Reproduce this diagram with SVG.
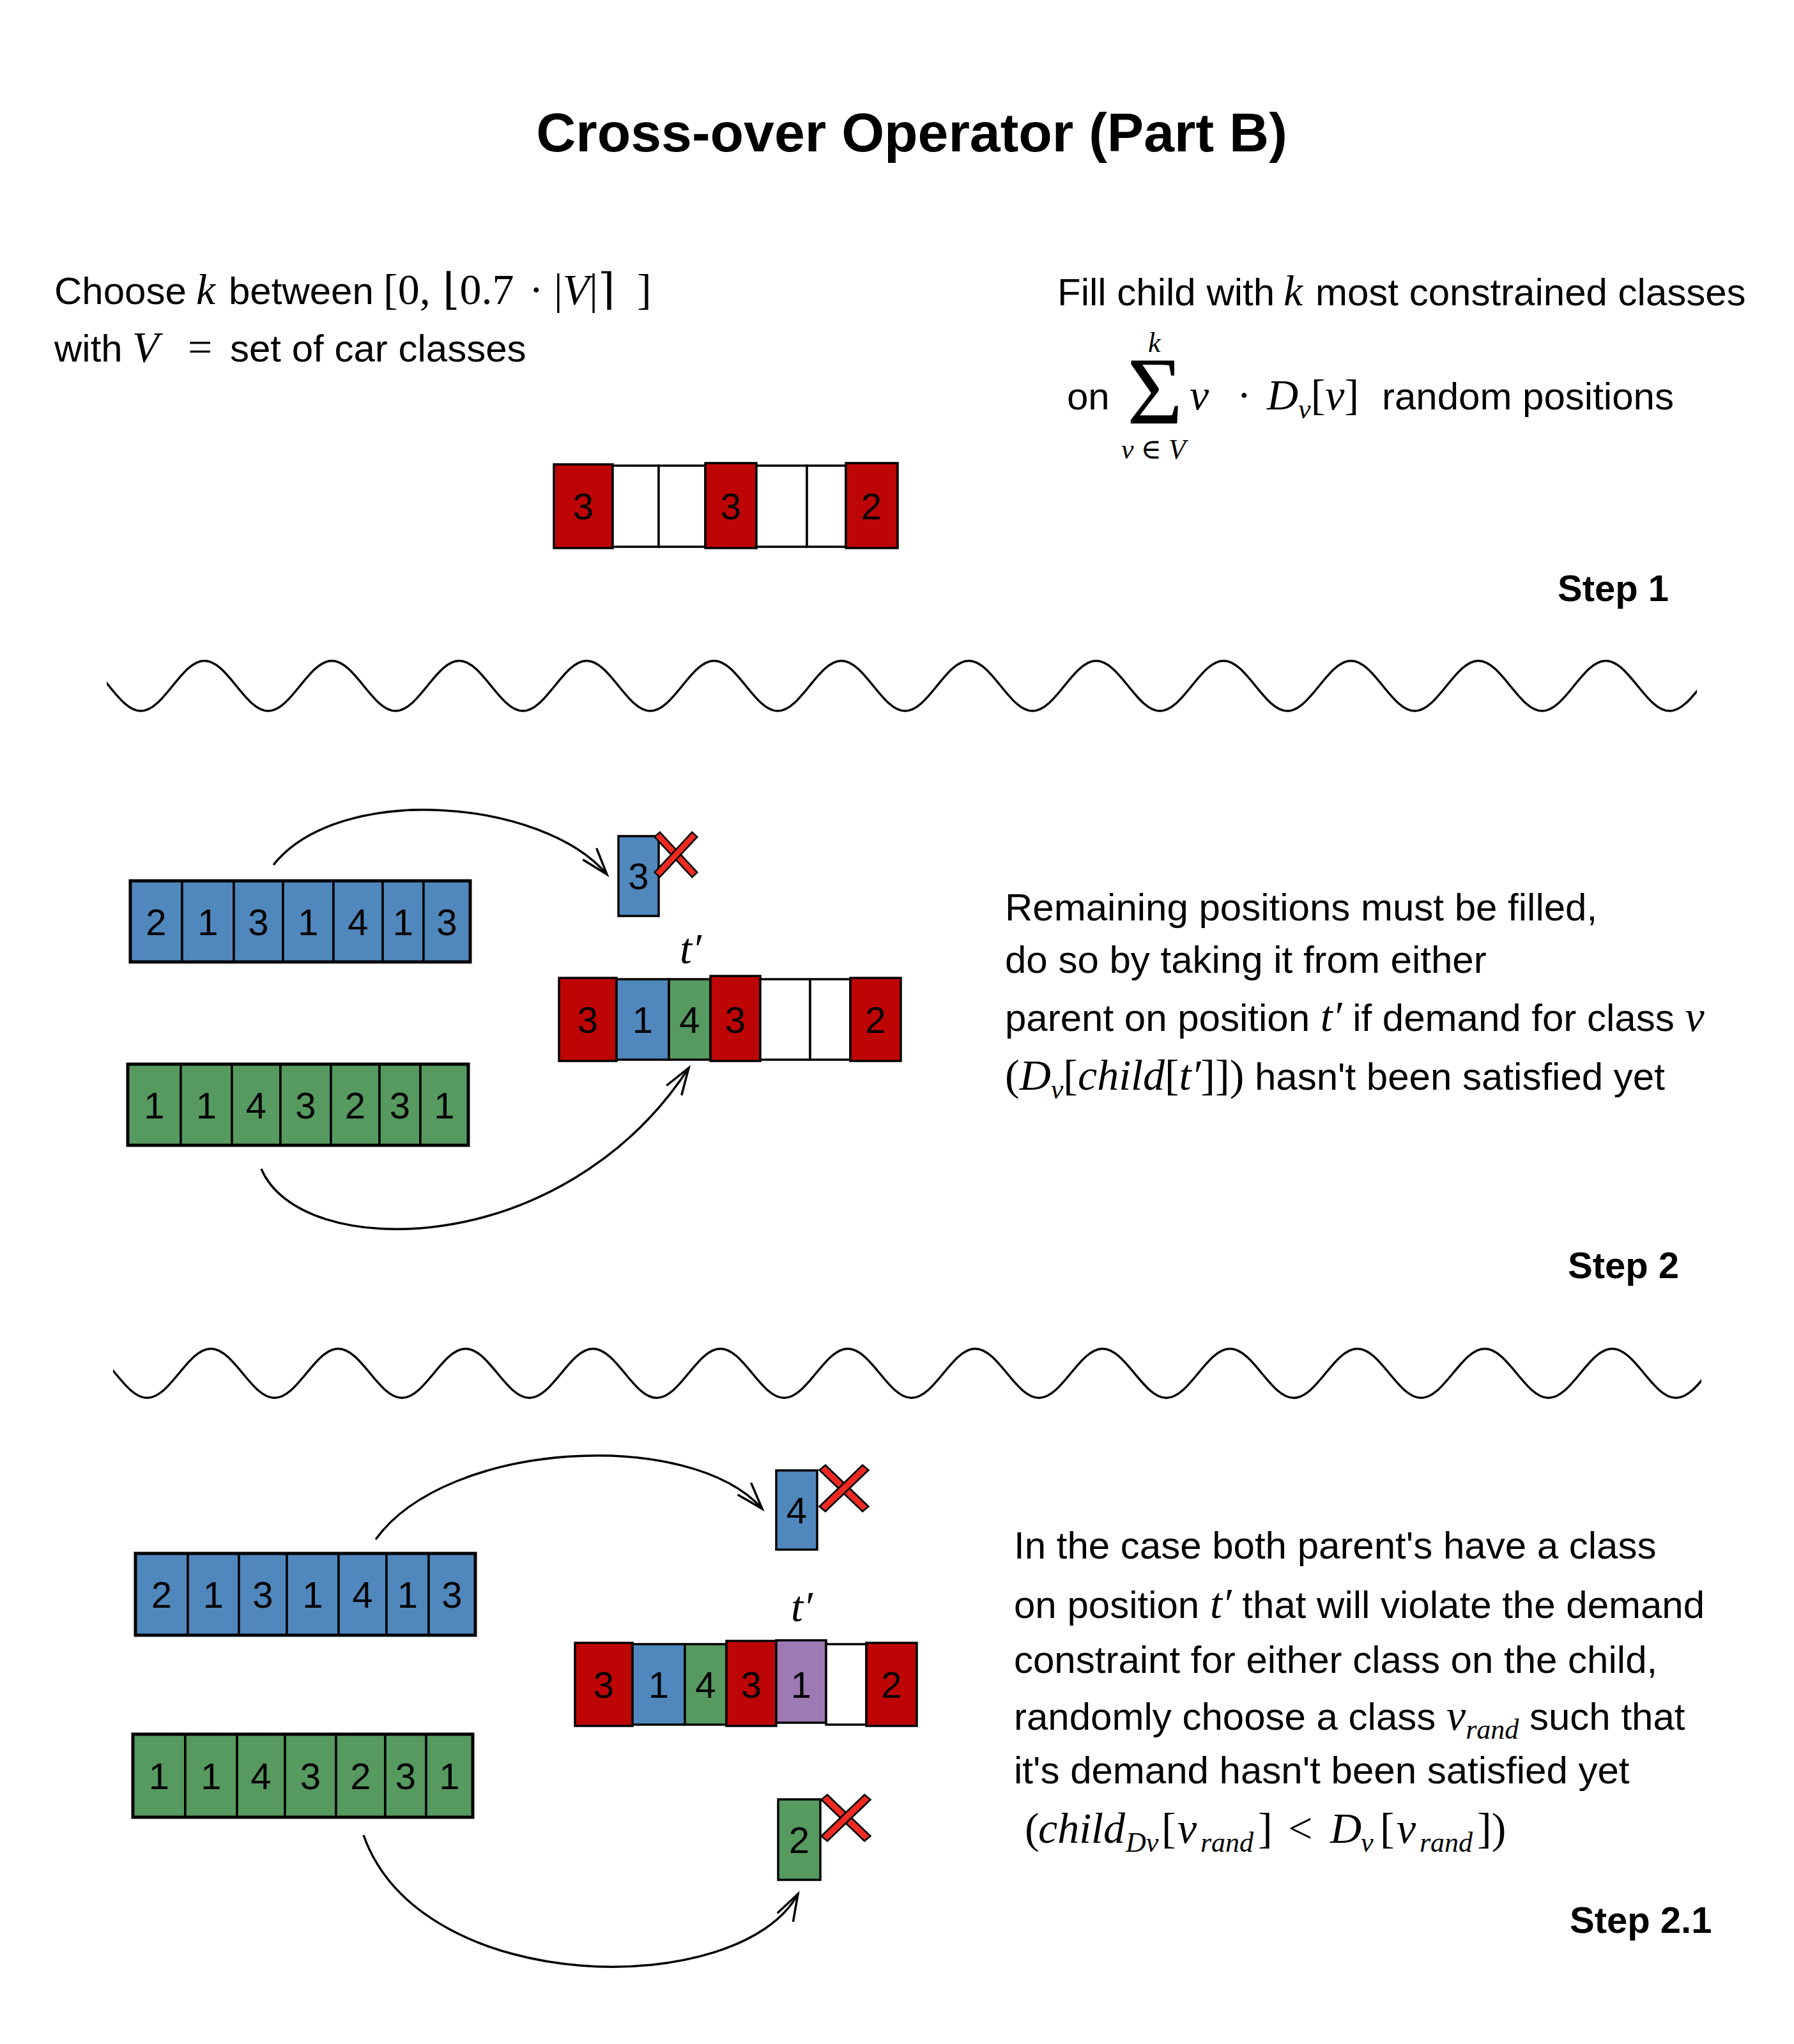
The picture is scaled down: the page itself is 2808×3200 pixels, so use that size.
<svg xmlns="http://www.w3.org/2000/svg" xmlns:xlink="http://www.w3.org/1999/xlink" width="2808" height="3200" viewBox="0 0 2808 3200">
<style>
.tx{font-family:"Liberation Sans",Arial,sans-serif;font-size:60px;fill:#000}
.mi{font-family:"Liberation Serif","DejaVu Serif",serif;font-style:italic;font-size:68px}
.mu{font-family:"Liberation Serif","DejaVu Serif",serif;font-style:normal;font-size:68px}
.sb{font-size:44px}
.sig{font-family:"Liberation Serif","DejaVu Serif",serif;font-size:150px;fill:#000}
.num{font-family:"Liberation Sans",Arial,sans-serif;font-size:58px;text-anchor:middle;fill:#000}
.step{font-family:"Liberation Sans",Arial,sans-serif;font-size:58px;font-weight:bold;fill:#000}
.title{font-family:"Liberation Sans",Arial,sans-serif;font-size:86px;font-weight:bold;text-anchor:middle;fill:#000}
.c{stroke:#000;stroke-width:3.5}
.R{fill:#BE0505}.B{fill:#5088BE}.G{fill:#569A60}.P{fill:#9E7AB4}.W{fill:#fff}
.outer{fill:none;stroke:#000;stroke-width:5}
.arc{fill:none;stroke:#000;stroke-width:3.5;marker-end:url(#arr)}
.wave{fill:none;stroke:#000;stroke-width:3.5}
</style>
<defs>
<marker id="arr" markerUnits="userSpaceOnUse" viewBox="-50 -25 60 50" refX="0" refY="0" markerWidth="60" markerHeight="50" orient="auto" overflow="visible">
<path d="M-42,-14 L0,0 L-42,14" fill="none" stroke="#000" stroke-width="3.5"/>
</marker>
<g id="xm">
<rect x="-5.5" y="-43" width="11" height="86" transform="rotate(-43)" fill="#EE2A22" stroke="#000" stroke-width="2.5"/>
<rect x="-5.5" y="-43" width="11" height="86" transform="rotate(43)" fill="#EE2A22" stroke="#000" stroke-width="2.5"/>
</g>
<clipPath id="cw1"><rect x="167" y="1000" width="2489" height="150"/></clipPath>
<clipPath id="cw2"><rect x="177" y="2080" width="2486" height="150"/></clipPath>
</defs>
<rect width="2808" height="3200" fill="#fff"/>

<text id="title" class="title" x="1427" y="237">Cross-over Operator (Part B)</text>

<g id="step1-text-left">
<text class="tx" y="476"><tspan x="85">Choose</tspan><tspan x="307" class="mi">k</tspan><tspan x="358">between</tspan><tspan x="600" class="mu">[0,</tspan><tspan x="693" class="mu">⌊0.7</tspan><tspan x="828" class="mu">·</tspan><tspan x="867" class="mu">|</tspan><tspan class="mi">V</tspan><tspan class="mu">|⌉</tspan><tspan x="997" class="mu">]</tspan></text>
<text class="tx" y="566"><tspan x="85">with</tspan><tspan x="207" class="mi">V</tspan><tspan x="294" class="mu">=</tspan><tspan x="360">set of car classes</tspan></text>
</g>

<g id="step1-text-right">
<text class="tx" y="478"><tspan x="1655">Fill child with</tspan><tspan x="2009" class="mi">k</tspan><tspan x="2059">most constrained classes</tspan></text>
<text class="tx" y="641"><tspan x="1670">on</tspan></text>
<text class="sig" x="1764" y="663">Σ</text>
<text class="mi sb" x="1797" y="551">k</text>
<text class="mi sb" x="1755" y="718">v <tspan class="mu sb">∈</tspan> V</text>
<text class="tx" y="641"><tspan x="1862" class="mi">v</tspan><tspan x="1936" class="mu">·</tspan><tspan x="1983" class="mi">D</tspan><tspan class="mi sb" dy="14">v</tspan><tspan class="mu" dy="-14">[</tspan><tspan class="mi">v</tspan><tspan class="mu">]</tspan><tspan x="2163">random positions</tspan></text>
</g>

<g id="child-step1">
<rect class="c R" x="867" y="727" width="92" height="131"/>
<rect class="c W" x="959" y="729" width="72" height="127"/>
<rect class="c W" x="1031" y="729" width="73" height="127"/>
<rect class="c R" x="1104" y="725" width="80" height="133"/>
<rect class="c W" x="1184" y="729" width="79" height="127"/>
<rect class="c W" x="1263" y="729" width="61" height="127"/>
<rect class="c R" x="1324" y="725" width="81" height="133"/>
<text class="num" x="913" y="813">3</text>
<text class="num" x="1144" y="813">3</text>
<text class="num" x="1364" y="813">2</text>
</g>

<text id="step1-label" class="step" x="2438" y="941">Step 1</text>

<g id="waves">
<path class="wave" clip-path="url(#cw1)" d="M120.6,1034.5 c36.2,0 63.5,78.5 99.7,78.5 s63.5,-78.5 99.7,-78.5 s63.5,78.5 99.7,78.5 s63.5,-78.5 99.7,-78.5 s63.5,78.5 99.7,78.5 s63.5,-78.5 99.7,-78.5 s63.5,78.5 99.7,78.5 s63.5,-78.5 99.7,-78.5 s63.5,78.5 99.7,78.5 s63.5,-78.5 99.7,-78.5 s63.5,78.5 99.7,78.5 s63.5,-78.5 99.7,-78.5 s63.5,78.5 99.7,78.5 s63.5,-78.5 99.7,-78.5 s63.5,78.5 99.7,78.5 s63.5,-78.5 99.7,-78.5 s63.5,78.5 99.7,78.5 s63.5,-78.5 99.7,-78.5 s63.5,78.5 99.7,78.5 s63.5,-78.5 99.7,-78.5 s63.5,78.5 99.7,78.5 s63.5,-78.5 99.7,-78.5 s63.5,78.5 99.7,78.5 s63.5,-78.5 99.7,-78.5 s63.5,78.5 99.7,78.5 s63.5,-78.5 99.7,-78.5"/>
<path class="wave" clip-path="url(#cw2)" d="M130.6,2111.5 c36.2,0 63.5,77 99.7,77 s63.5,-77 99.7,-77 s63.5,77 99.7,77 s63.5,-77 99.7,-77 s63.5,77 99.7,77 s63.5,-77 99.7,-77 s63.5,77 99.7,77 s63.5,-77 99.7,-77 s63.5,77 99.7,77 s63.5,-77 99.7,-77 s63.5,77 99.7,77 s63.5,-77 99.7,-77 s63.5,77 99.7,77 s63.5,-77 99.7,-77 s63.5,77 99.7,77 s63.5,-77 99.7,-77 s63.5,77 99.7,77 s63.5,-77 99.7,-77 s63.5,77 99.7,77 s63.5,-77 99.7,-77 s63.5,77 99.7,77 s63.5,-77 99.7,-77 s63.5,77 99.7,77 s63.5,-77 99.7,-77 s63.5,77 99.7,77 s63.5,-77 99.7,-77"/>
</g>

<g id="parent1-step2">
<rect class="c B" x="204" y="1379" width="81" height="127"/>
<rect class="c B" x="285" y="1379" width="81" height="127"/>
<rect class="c B" x="366" y="1379" width="77" height="127"/>
<rect class="c B" x="443" y="1379" width="79" height="127"/>
<rect class="c B" x="522" y="1379" width="77" height="127"/>
<rect class="c B" x="599" y="1379" width="64" height="127"/>
<rect class="c B" x="663" y="1379" width="73" height="127"/>
<rect class="outer" x="204" y="1379" width="532" height="127"/>
<text class="num" x="244.5" y="1464">2</text>
<text class="num" x="325.5" y="1464">1</text>
<text class="num" x="404.5" y="1464">3</text>
<text class="num" x="482.5" y="1464">1</text>
<text class="num" x="560.5" y="1464">4</text>
<text class="num" x="631" y="1464">1</text>
<text class="num" x="699.5" y="1464">3</text>
</g>

<g id="parent2-step2">
<rect class="c G" x="200" y="1666" width="83" height="127"/>
<rect class="c G" x="283" y="1666" width="80" height="127"/>
<rect class="c G" x="363" y="1666" width="76" height="127"/>
<rect class="c G" x="439" y="1666" width="79" height="127"/>
<rect class="c G" x="518" y="1666" width="76" height="127"/>
<rect class="c G" x="594" y="1666" width="64" height="127"/>
<rect class="c G" x="658" y="1666" width="75" height="127"/>
<rect class="outer" x="200" y="1666" width="533" height="127"/>
<text class="num" x="241.5" y="1751">1</text>
<text class="num" x="323" y="1751">1</text>
<text class="num" x="401" y="1751">4</text>
<text class="num" x="478.5" y="1751">3</text>
<text class="num" x="556" y="1751">2</text>
<text class="num" x="626" y="1751">3</text>
<text class="num" x="695.5" y="1751">1</text>
</g>

<g id="gene-3-rejected">
<rect class="c B" x="968" y="1309" width="63" height="125"/>
<text class="num" x="999.5" y="1392">3</text>
<use xlink:href="#xm" transform="translate(1058,1338)"/>
</g>

<text id="tprime-step2" class="mi" x="1064" y="1508">t′</text>

<g id="child-step2">
<rect class="c R" x="875" y="1531" width="90" height="130"/>
<rect class="c B" x="965" y="1533" width="82" height="126"/>
<rect class="c G" x="1047" y="1533" width="65" height="126"/>
<rect class="c R" x="1112" y="1528" width="78" height="133"/>
<rect class="c W" x="1190" y="1533" width="78" height="126"/>
<rect class="c W" x="1268" y="1533" width="63" height="126"/>
<rect class="c R" x="1331" y="1531" width="79" height="130"/>
<text class="num" x="920" y="1617">3</text>
<text class="num" x="1006" y="1617">1</text>
<text class="num" x="1079.5" y="1617">4</text>
<text class="num" x="1151" y="1617">3</text>
<text class="num" x="1370.5" y="1617">2</text>
</g>

<g id="step2-text">
<text class="tx" x="1573" y="1441">Remaining positions must be filled,</text>
<text class="tx" x="1573" y="1523">do so by taking it from either</text>
<text class="tx" x="1573" y="1614">parent on position <tspan class="mi">t′</tspan> if demand for class <tspan class="mi">v</tspan></text>
<text class="tx" x="1573" y="1706"><tspan class="mu">(</tspan><tspan class="mi">D</tspan><tspan class="mi sb" dy="14">v</tspan><tspan class="mu" dy="-14">[</tspan><tspan class="mi">child</tspan><tspan class="mu">[</tspan><tspan class="mi">t′</tspan><tspan class="mu">]])</tspan> hasn't been satisfied yet</text>
</g>

<text id="step2-label" class="step" x="2454" y="2001">Step 2</text>

<g id="parent1-step21">
<rect class="c B" x="212" y="2432" width="82" height="128"/>
<rect class="c B" x="294" y="2432" width="80" height="128"/>
<rect class="c B" x="374" y="2432" width="75" height="128"/>
<rect class="c B" x="449" y="2432" width="81" height="128"/>
<rect class="c B" x="530" y="2432" width="75" height="128"/>
<rect class="c B" x="605" y="2432" width="66" height="128"/>
<rect class="c B" x="671" y="2432" width="73" height="128"/>
<rect class="outer" x="212" y="2432" width="532" height="128"/>
<text class="num" x="253" y="2517">2</text>
<text class="num" x="334" y="2517">1</text>
<text class="num" x="411.5" y="2517">3</text>
<text class="num" x="489.5" y="2517">1</text>
<text class="num" x="567.5" y="2517">4</text>
<text class="num" x="638" y="2517">1</text>
<text class="num" x="707.5" y="2517">3</text>
</g>

<g id="parent2-step21">
<rect class="c G" x="208" y="2715" width="82" height="130"/>
<rect class="c G" x="290" y="2715" width="81" height="130"/>
<rect class="c G" x="371" y="2715" width="75" height="130"/>
<rect class="c G" x="446" y="2715" width="80" height="130"/>
<rect class="c G" x="526" y="2715" width="77" height="130"/>
<rect class="c G" x="603" y="2715" width="64" height="130"/>
<rect class="c G" x="667" y="2715" width="73" height="130"/>
<rect class="outer" x="208" y="2715" width="532" height="130"/>
<text class="num" x="249" y="2801">1</text>
<text class="num" x="330.5" y="2801">1</text>
<text class="num" x="408.5" y="2801">4</text>
<text class="num" x="486" y="2801">3</text>
<text class="num" x="564.5" y="2801">2</text>
<text class="num" x="635" y="2801">3</text>
<text class="num" x="703.5" y="2801">1</text>
</g>

<g id="gene-4-rejected">
<rect class="c B" x="1215" y="2302" width="64" height="124"/>
<text class="num" x="1247" y="2385">4</text>
<use xlink:href="#xm" transform="translate(1321,2330) scale(1.15,1.03)"/>
</g>

<g id="gene-2-rejected">
<rect class="c G" x="1218" y="2817" width="66" height="126"/>
<text class="num" x="1251" y="2901">2</text>
<use xlink:href="#xm" transform="translate(1324,2846) scale(1.15,1.03)"/>
</g>

<text id="tprime-step21" class="mi" x="1238" y="2538">t′</text>

<g id="child-step21">
<rect class="c R" x="900" y="2572" width="90" height="130"/>
<rect class="c B" x="990" y="2574" width="82" height="126"/>
<rect class="c G" x="1072" y="2574" width="65" height="126"/>
<rect class="c R" x="1137" y="2569" width="78" height="133"/>
<rect class="c P" x="1215" y="2568" width="78" height="129"/>
<rect class="c W" x="1293" y="2574" width="63" height="126"/>
<rect class="c R" x="1356" y="2572" width="79" height="130"/>
<text class="num" x="945" y="2658">3</text>
<text class="num" x="1031" y="2658">1</text>
<text class="num" x="1104.5" y="2658">4</text>
<text class="num" x="1176" y="2658">3</text>
<text class="num" x="1254" y="2658">1</text>
<text class="num" x="1395.5" y="2658">2</text>
</g>

<g id="step21-text">
<text class="tx" x="1587" y="2440">In the case both parent's have a class</text>
<text class="tx" x="1587" y="2533">on position <tspan class="mi">t′</tspan> that will violate the demand</text>
<text class="tx" x="1587" y="2619">constraint for either class on the child,</text>
<text class="tx" x="1587" y="2708">randomly choose a class <tspan class="mi">v</tspan><tspan class="mi sb" dy="14">rand</tspan><tspan dy="-14"> such that</tspan></text>
<text class="tx" x="1587" y="2792">it's demand hasn't been satisfied yet</text>
<text class="tx" y="2885"><tspan x="1604" class="mu">(</tspan><tspan x="1625" class="mi">child</tspan><tspan x="1762" class="mi sb" dy="14">Dv</tspan><tspan x="1818" class="mu" dy="-14">[</tspan><tspan x="1843" class="mi">v</tspan><tspan x="1879" class="mi sb" dy="14">rand</tspan><tspan x="1969" class="mu" dy="-14">]</tspan><tspan x="2016" class="mu">&lt;</tspan><tspan x="2082" class="mi">D</tspan><tspan x="2130" class="mi sb" dy="14">v</tspan><tspan x="2160" class="mu" dy="-14">[</tspan><tspan x="2186" class="mi">v</tspan><tspan x="2222" class="mi sb" dy="14">rand</tspan><tspan x="2312" class="mu" dy="-14">])</tspan></text>
</g>

<text id="step21-label" class="step" x="2457" y="3026">Step 2.1</text>

<g id="connectors">
<path class="arc" d="M428,1354 C530,1225 850,1250 950,1369"/>
<path class="arc" d="M409,1830 C470,1975 880,1975 1078,1672"/>
<path class="arc" d="M588,2410 C700,2255 1080,2235 1193,2362"/>
<path class="arc" d="M569,2873 C660,3130 1160,3130 1249,2965"/>
</g>
</svg>
